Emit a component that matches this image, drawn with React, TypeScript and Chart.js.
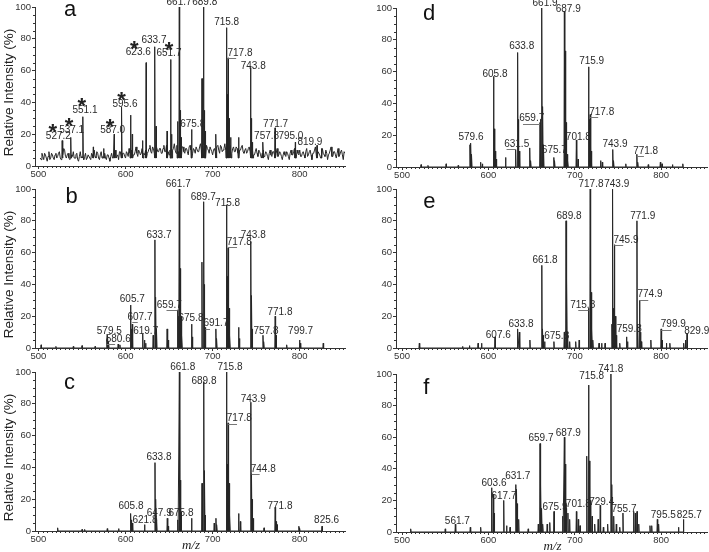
import React, { useEffect, useRef } from 'react';
import { Chart, registerables } from 'chart.js';

Chart.register(...registerables);

const FONT = '"Liberation Sans", Arial, Helvetica, sans-serif';

// ---------- shared axis ticks ----------
const xTickValues = [500, 600, 700, 800];
const yTickValues = [0, 20, 40, 60, 80, 100];

// ---------- panel a ----------
// baseline noise sampled every 2 m/z units, two interleaved traces
const noiseStartA = 502;
const noiseStepA = 2;
const noiseA = [
  5, 8, 4, 7, 3, 9, 5, 7, 4, 8,
  6, 9, 4, 7, 10, 5, 8, 4, 7, 9,
  5, 8, 3, 9, 6, 4, 8, 5, 7, 4,
  7, 10, 5, 8, 4, 9, 6, 8, 4, 7,
  3, 8, 5, 10, 6, 4, 9, 6, 8, 5,
  8, 11, 6, 10, 7, 12, 6, 9, 8, 11,
  7, 12, 9, 13, 8, 11, 7, 12, 9, 11,
  8, 13, 9, 12, 7, 12, 10, 14, 8, 12,
  13, 9, 12, 8, 11, 7, 13, 9, 11, 8,
  12, 9, 14, 10, 13, 9, 11, 8, 12, 7,
  11, 9, 13, 8, 12, 10, 14, 11, 9, 13,
  8, 12, 9, 11, 7, 10, 13, 8, 11, 9,
  12, 8, 10, 7, 11, 6, 9, 5, 10, 7,
  8, 4, 10, 6, 9, 5, 11, 7, 8, 4,
  9, 6, 8, 4, 10, 7, 11, 5, 8, 10,
  6, 9, 5, 11, 7, 10, 4, 8, 12, 6,
  9, 5, 11, 7, 10, 4, 8, 12, 6, 9,
  5, 11, 7, 10, 4, 8,
];
const noiseStartA2 = 503;
const noiseA2 = [
  4, 6, 8, 5, 6, 4, 8, 5, 7, 5,
  8, 5, 7, 11, 6, 7, 5, 9, 6, 5,
  7, 4, 6, 5, 8, 6, 4, 7, 5, 8,
  5, 6, 9, 5, 7, 5, 8, 5, 7, 5,
  6, 5, 8, 5, 7, 9, 5, 8, 6, 9,
  6, 8, 10, 7, 9, 8, 10, 7, 11, 8,
  10, 8, 11, 9, 12, 8, 10, 9, 11, 8,
  11, 9, 13, 9, 10, 8, 11, 10, 13, 9,
  10, 12, 9, 11, 9, 12, 10, 8, 10, 12,
  9, 12, 10, 11, 9, 13, 10, 12, 9, 10,
  9, 12, 10, 13, 9, 11, 10, 12, 13, 9,
  11, 9, 12, 8, 10, 12, 9, 10, 8, 11,
  9, 11, 7, 9, 8, 10, 7, 8, 6, 9,
  6, 8, 7, 9, 7, 8, 6, 9, 6, 7,
  7, 9, 6, 8, 7, 9, 8, 10, 7, 6,
  8, 7, 9, 6, 9, 7, 8, 10, 7, 9,
  7, 9, 8, 6, 8, 7, 10, 6, 9, 7,
  8, 6, 9, 7, 9,
];
const mzA = [527.2, 537.1, 551.1, 563.0, 575.0, 587.0, 595.6, 605.7, 607.7, 619.7, 623.6, 633.7, 635.0, 647.7, 651.7, 653.0, 659.7, 661.7, 662.7, 663.7, 675.8, 687.8, 689.8, 690.8, 691.8, 703.8, 715.8, 716.8, 717.8, 718.8, 721.0, 729.8, 743.8, 744.8, 746.0, 757.8, 771.7, 795.0, 819.9, 825.0];
const intA = [16, 18, 31, 12, 11, 20, 37, 32, 20, 16, 65, 75, 25, 22, 67, 20, 28, 100, 35, 18, 23, 55, 100, 35, 22, 20, 87, 45, 68, 30, 18, 18, 62, 30, 15, 15, 24, 15, 13, 11];
const labelsA: any[] = [
  ['527.2', 522.8, 18.8], ['537.1', 538.1, 22.7], ['551.1', 553.4, 35.2], ['587.0', 585.2, 22.7],
  ['595.6', 599.3, 38.8], ['623.6', 614.6, 71.3], ['633.7', 632.6, 79.4], ['651.7', 649.8, 71],
  ['661.7', 661.4, 102.7], ['689.8', 690.9, 102.7], ['675.8', 677.1, 26.3], ['715.8', 716.1, 90.3],
  ['717.8', 731.4, 71, 717.8, 727], ['743.8', 746.6, 62.5], ['757.8', 762, 18.8], ['771.7', 772.3, 26.3],
  ['795.0', 789.9, 18.8], ['819.9', 811.7, 15.2],
];
const starsA = [[516.3, 25.1], [535, 28.4], [549.6, 41.5], [582.1, 27.8], [595.5, 45.1], [610, 77.3], [649.8, 76.2]];

// ---------- panel b ----------
const mzB = [503, 520, 540, 550, 565, 578.5, 579.5, 580.6, 591.5, 593.5, 605.7, 606.7, 607.7, 619.7, 621.7, 623, 631.7, 633.7, 634.7, 635.7, 647.7, 649, 659.7, 660.7, 661.7, 662.7, 663.7, 664.7, 675.8, 676.8, 687.7, 689.7, 690.7, 691.7, 703.7, 704.7, 715.8, 716.8, 717.8, 718.8, 719.8, 729.8, 730.8, 743.8, 744.8, 745.8, 757.8, 758.8, 771.8, 772.8, 785, 799.7, 800.7, 827];
const intB = [2, 1, 1, 1.5, 1, 6, 8, 4, 2.5, 2, 27, 12, 15, 9, 5, 3, 8, 68, 32, 12, 12, 5, 24, 20, 100, 50, 20, 8, 15, 7, 54, 92, 40, 13, 12, 6, 90, 45, 63, 25, 8, 13, 6, 67, 33, 12, 8, 4, 20, 8, 2, 5, 3, 3];
const labelsB: any[] = [
  ['661.7', 660.5, 102.7], ['689.7', 689.2, 95], ['715.8', 717.2, 90.8], ['633.7', 638.4, 70.8],
  ['743.8', 746.6, 70.6], ['717.8', 730.6, 66.7, 717.8, 728], ['605.7', 607.7, 30.8],
  ['659.7', 650.2, 26.8, 659.7, 647], ['607.7', 616.5, 19.2, 607.7, 614], ['675.8', 675.1, 18.4],
  ['691.7', 703.8, 15.3, 691.7, 697], ['771.8', 777.3, 22.4], ['579.5', 581.3, 10.3],
  ['580.6', 591.6, 5.8, 578.5, 588], ['619.7', 623.1, 10.7], ['757.8', 761.2, 10.7], ['799.7', 801, 10.4],
];

// ---------- panel c ----------
const mzC = [522, 550, 553, 579, 592, 605.8, 606.8, 607.8, 621.8, 633.8, 634.8, 635.8, 647.9, 649, 659.9, 661.8, 662.8, 663.8, 675.8, 687.8, 689.8, 690.8, 691.8, 701.8, 703.8, 704.8, 715.8, 716.8, 717.8, 718.8, 719.8, 729.8, 731.8, 743.9, 744.8, 745.8, 746.8, 759, 771.8, 772.8, 774, 799, 800, 825.6];
const intC = [2, 1, 1, 1.5, 1.5, 11, 7, 5, 4, 43, 20, 8, 8, 3, 7, 100, 32, 12, 8, 30, 94, 38, 10, 5, 8, 4, 100, 42, 68, 30, 10, 11, 6, 81, 36, 20, 8, 2, 15, 6, 4, 3, 2, 3];
const labelsC: any[] = [
  ['661.8', 665.6, 102.8], ['715.8', 719.9, 102.8], ['689.8', 690, 94.4], ['743.9', 746.6, 82.7],
  ['717.8', 730.6, 70.7, 717.8, 728], ['633.8', 638.4, 46.6], ['744.8', 758.1, 38.7, 744.8, 754],
  ['605.8', 606.2, 15.3], ['621.8', 622.3, 6.9], ['647.9', 638.7, 11.1], ['675.8', 663.6, 11.1],
  ['771.8', 777.3, 15.7], ['825.6', 830.9, 6.9],
];

// ---------- panel d ----------
const mzD = [522, 530, 551, 565, 578.6, 579.6, 580.6, 591, 593, 605.8, 606.8, 607.8, 609, 619.8, 631.5, 633.8, 634.8, 635.8, 647.8, 649, 659.7, 660.8, 661.9, 662.9, 663.9, 675.7, 676.7, 687.9, 688.9, 689.9, 691, 692, 701.8, 703.8, 715.9, 716.9, 717.8, 719, 729.8, 731.8, 743.9, 745, 759, 771.8, 773, 785, 799, 801, 813, 825];
const intD = [1.5, 1, 2, 1, 14, 15, 8, 3, 2, 57, 24, 10, 5, 6, 11, 72, 30, 10, 12, 4, 28, 30, 100, 38, 14, 6, 4, 98, 73, 28, 8, 4, 17, 5, 63, 30, 33, 10, 4, 3, 11, 4, 2, 8, 3, 1.5, 3, 2, 1.5, 2];
const labelsD: any[] = [
  ['661.9', 665.5, 102.7], ['687.9', 692.4, 98.9], ['633.8', 638.5, 75.8], ['715.9', 719.5, 66.7],
  ['605.8', 607.6, 58.5], ['717.8', 731.1, 34.7, 717.8, 727], ['659.7', 650.1, 30.5, 659.7, 640],
  ['579.6', 579.8, 18.5], ['701.8', 704.1, 18.5], ['631.5', 632.7, 14.3, 631.5, 621],
  ['743.9', 746.5, 14.3], ['675.7', 676.3, 10.5], ['771.8', 782, 10.1, 771.8, 780],
];

// ---------- panel e ----------
const mzE = [520, 570, 578, 588, 592, 607.6, 633.8, 635.8, 648, 661.8, 662.8, 663.8, 665, 675.8, 687.8, 689.8, 690.8, 691.8, 694, 701, 705, 715.8, 717.8, 718.8, 719.8, 721, 728, 731, 735, 742.9, 743.9, 744.9, 745.9, 746.9, 748, 752, 759.8, 761, 771.9, 772.9, 774.9, 775.9, 777, 788, 799.9, 801, 806, 810, 826, 828, 829.9];
const intE = [3, 1, 1.5, 3, 3, 7, 12, 10, 5, 52, 12, 8, 4, 4, 10, 80, 43, 10, 4, 4, 5, 25, 100, 35, 12, 5, 3, 3, 3, 15, 100, 25, 65, 20, 8, 3, 7, 4, 80, 15, 30, 10, 4, 5, 12, 5, 3, 3, 3, 5, 9];
const labelsE: any[] = [
  ['717.8', 718.7, 102.7], ['743.9', 748.5, 102.7], ['689.8', 693.3, 82.8], ['771.9', 778.6, 82.8],
  ['745.9', 759.2, 67.7, 745.9, 756], ['661.8', 665.5, 55.1], ['774.9', 787, 33.5, 774.9, 785],
  ['715.8', 709.1, 27.2, 715.8, 704], ['633.8', 637.7, 14.7], ['607.6', 611.4, 7.9],
  ['675.8', 679, 7.3], ['759.8', 763, 11.5], ['799.9', 814, 14.7, 799.9, 812], ['829.9', 841.1, 10.4],
];

// ---------- panel f ----------
const mzF = [510, 550, 561.7, 579, 591, 603.6, 605.6, 606.6, 617.7, 621, 625, 631.7, 632.7, 633.7, 635, 646, 657.7, 659.7, 660.7, 661.7, 663, 668, 671, 675.9, 686, 687.9, 688.9, 690, 692, 694, 701.8, 704, 706, 713.8, 715.8, 716.8, 718, 720, 723, 727, 729.4, 733, 738, 741.8, 743, 745, 748, 752, 755.7, 768, 770, 772, 774, 787, 789, 795.5, 797, 820, 825.7];
const intF = [2, 2, 5, 3, 3, 28, 24, 12, 20, 4, 3, 30, 27, 18, 8, 2, 5, 56, 30, 15, 5, 5, 6, 13, 10, 60, 43, 15, 12, 8, 13, 8, 4, 48, 93, 45, 20, 10, 5, 8, 17, 3, 5, 100, 30, 10, 5, 3, 12, 13, 12, 13, 5, 4, 4, 8, 5, 3, 8];
const labelsF: any[] = [
  ['741.8', 741.5, 103], ['715.8', 719.5, 98.6], ['687.9', 692.4, 62.8], ['659.7', 660.8, 59.3],
  ['631.7', 633.9, 35.1], ['603.6', 606.4, 30.9], ['617.7', 618, 22.9], ['701.8', 704.1, 17.8],
  ['729.4', 731.1, 18.7], ['675.9', 677, 15.8], ['755.7', 756.9, 14.5], ['795.5', 802.4, 10.9],
  ['825.7', 832.5, 10.9], ['561.7', 564, 6.7],
];

// ---------- layout (pixels) ----------
const PANELS = [
  { key: 'a', letter: 'a', mz: mzA, it: intA, base: 5, noise: true, labels: labelsA, stars: starsA, area: [35, 345, 7, 166], range: [496, 852], letterPos: [64, 16], yTitle: true, xTitle: false },
  { key: 'b', letter: 'b', mz: mzB, it: intB, base: 0, noise: false, labels: labelsB, stars: [], area: [35, 345, 189, 348], range: [496, 852], letterPos: [65.5, 203.3], yTitle: true, xTitle: false },
  { key: 'c', letter: 'c', mz: mzC, it: intC, base: 0, noise: false, labels: labelsC, stars: [], area: [35, 345, 372, 531], range: [496, 852], letterPos: [64, 389.3], yTitle: true, xTitle: true },
  { key: 'd', letter: 'd', mz: mzD, it: intD, base: 0, noise: false, labels: labelsD, stars: [], area: [396, 707, 8, 167], range: [493, 853], letterPos: [423, 20], yTitle: false, xTitle: false },
  { key: 'e', letter: 'e', mz: mzE, it: intE, base: 0, noise: false, labels: labelsE, stars: [], area: [396, 707, 189, 348], range: [493, 853], letterPos: [423.3, 207.7], yTitle: false, xTitle: false },
  { key: 'f', letter: 'f', mz: mzF, it: intF, base: 0, noise: false, labels: labelsF, stars: [], area: [396, 707, 374, 532], range: [493, 853], letterPos: [423.3, 394.3], yTitle: false, xTitle: true },
];

const W = 709;
const H = 552;
const Y_AXIS_W = 30;
const X_AXIS_H = 15;

function buildPoints(p: any) {
  const pts: { x: number; y: number }[] = [];
  p.mz.forEach((m: number, i: number) => {
    pts.push({ x: m - 0.45, y: p.base }, { x: m, y: p.it[i] }, { x: m + 0.45, y: p.base });
  });
  if (p.noise) {
    noiseA.forEach((v: number, i: number) => pts.push({ x: noiseStartA + i * noiseStepA, y: v }));
    noiseA2.forEach((v: number, i: number) => pts.push({ x: noiseStartA2 + i * noiseStepA, y: v }));
  }
  pts.sort((a, b) => a.x - b.x);
  return pts;
}

function PanelChart({ panel }: { panel: any }) {
  const ref = useRef<HTMLCanvasElement>(null);
  useEffect(() => {
    const [l, r, t, b] = panel.area;
    const overlay = {
      id: 'overlay' + panel.key,
      afterDraw(chart: any) {
        const { ctx, chartArea } = chart;
        const xs = chart.scales.x;
        const ys = chart.scales.y;
        ctx.save();
        // minor ticks
        ctx.strokeStyle = '#333';
        ctx.lineWidth = 1;
        ctx.beginPath();
        for (let v = 5; v < 100; v += 5) {
          if (v % 20 === 0) continue;
          const py = Math.round(ys.getPixelForValue(v)) + 0.5;
          ctx.moveTo(chartArea.left - 2, py);
          ctx.lineTo(chartArea.left, py);
        }
        for (let v = Math.ceil(panel.range[0] / 5) * 5; v <= panel.range[1]; v += 5) {
          if (v % 100 === 0) continue;
          const px = Math.round(xs.getPixelForValue(v)) + 0.5;
          ctx.moveTo(px, chartArea.bottom);
          ctx.lineTo(px, chartArea.bottom + 2);
        }
        ctx.stroke();

        // peak labels
        ctx.font = `10px ${FONT}`;
        ctx.fillStyle = '#2a2a2a';
        ctx.textAlign = 'center';
        ctx.textBaseline = 'middle';
        panel.labels.forEach((lab: any) => {
          const px = xs.getPixelForValue(lab[1]);
          const py = ys.getPixelForValue(lab[2]);
          ctx.fillText(lab[0], px, py);
          if (lab.length > 3) {
            ctx.strokeStyle = '#777';
            ctx.beginPath();
            const ly = Math.round(py + 5) + 0.5;
            ctx.moveTo(xs.getPixelForValue(lab[3]), ly);
            ctx.lineTo(xs.getPixelForValue(lab[4]), ly);
            ctx.stroke();
          }
        });

        // asterisks
        const starSize = 22;
        ctx.font = `bold ${starSize}px ${FONT}`;
        ctx.fillStyle = '#222';
        ctx.textBaseline = 'alphabetic';
        panel.stars.forEach((s: number[]) => {
          const px = xs.getPixelForValue(s[0]);
          const py = ys.getPixelForValue(s[1]);
          ctx.fillText('*', px, py + starSize * 0.57);
        });

        // panel letter
        ctx.font = `22px ${FONT}`;
        ctx.fillStyle = '#111';
        ctx.textAlign = 'left';
        ctx.fillText(panel.letter, panel.letterPos[0], panel.letterPos[1]);

        // axis titles
        if (panel.yTitle) {
          ctx.save();
          ctx.font = `13.5px ${FONT}`;
          ctx.fillStyle = '#222';
          ctx.textAlign = 'center';
          ctx.textBaseline = 'alphabetic';
          ctx.translate(13.3, (chartArea.top + chartArea.bottom) / 2 + 6);
          ctx.rotate(-Math.PI / 2);
          ctx.fillText('Relative Intensity (%)', 0, 0);
          ctx.restore();
        }
        if (panel.xTitle) {
          ctx.font = `italic 13px "Liberation Serif", "Times New Roman", serif`;
          ctx.fillStyle = '#222';
          ctx.textAlign = 'center';
          ctx.textBaseline = 'alphabetic';
          ctx.fillText('m/z', (chartArea.left + chartArea.right) / 2 + 1, chartArea.bottom + 18);
        }
        ctx.restore();
      },
    };

    const tickFont = { family: FONT, size: 9.5 };
    const chart = new Chart(ref.current as HTMLCanvasElement, {
      type: 'line',
      data: {
        datasets: [
          {
            data: buildPoints(panel),
            borderColor: '#262626',
            borderWidth: 1,
            pointRadius: 0,
            tension: 0,
            fill: false,
          },
        ],
      },
      options: {
        responsive: false,
        animation: false,
        events: [],
        layout: {
          padding: { left: l - Y_AXIS_W, right: W - r, top: t, bottom: H - b - X_AXIS_H },
        },
        plugins: { legend: { display: false }, tooltip: { enabled: false } },
        scales: {
          x: {
            type: 'linear',
            min: panel.range[0],
            max: panel.range[1],
            afterBuildTicks: (s: any) => {
              s.ticks = xTickValues.map((v) => ({ value: v }));
            },
            afterFit: (s: any) => {
              s.height = X_AXIS_H;
            },
            grid: { display: true, drawOnChartArea: false, drawTicks: true, tickLength: 3, color: '#333' },
            border: { display: true, color: '#333', width: 1 },
            ticks: { font: tickFont, color: '#333', padding: 0, maxRotation: 0, autoSkip: false },
          },
          y: {
            type: 'linear',
            min: 0,
            max: 100,
            afterBuildTicks: (s: any) => {
              s.ticks = yTickValues.map((v) => ({ value: v }));
            },
            afterFit: (s: any) => {
              s.width = Y_AXIS_W;
            },
            grid: { display: true, drawOnChartArea: false, drawTicks: true, tickLength: 3, color: '#333' },
            border: { display: true, color: '#333', width: 1 },
            ticks: { font: tickFont, color: '#333', padding: 1, autoSkip: false },
          },
        },
      },
      plugins: [overlay],
    } as any);
    return () => chart.destroy();
  }, [panel]);
  return (
    <canvas
      ref={ref}
      width={W}
      height={H}
      style={{ position: 'absolute', left: 0, top: 0, width: W, height: H, pointerEvents: 'none' }}
    />
  );
}

export default function App() {
  return (
    <div style={{ position: 'absolute', left: 0, top: 0, width: W, height: H, background: '#fff', overflow: 'hidden' }}>
      {PANELS.map((p) => (
        <PanelChart key={p.key} panel={p} />
      ))}
    </div>
  );
}
